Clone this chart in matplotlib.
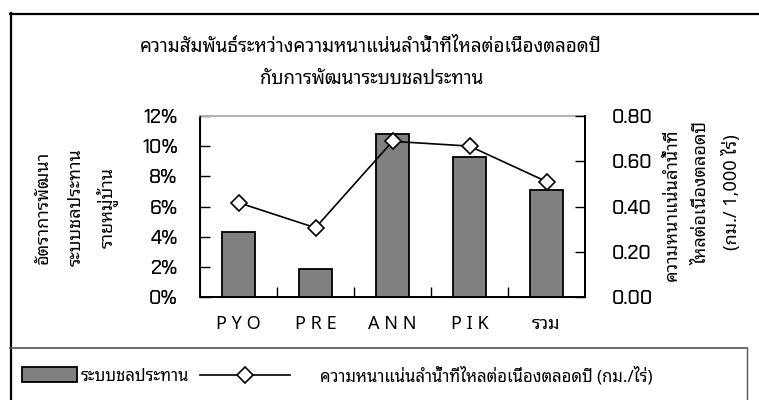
import numpy as np
import matplotlib
matplotlib.use("Agg")
import matplotlib.pyplot as plt
from matplotlib.lines import Line2D

THAI = ['Noto Sans Thai Looped', 'Noto Sans Thai', 'Sarabun', 'DejaVu Sans']
TICKS = ['Chakra Petch', 'DejaVu Sans']

categories = ['P Y O', 'P R E', 'A N N', 'P I K', 'รวม']
irrigation_pct = [4.33, 1.86, 10.8, 9.3, 7.07]
stream_density = [0.417, 0.306, 0.688, 0.667, 0.51]

title = ['ความสัมพันธ์ระหว่างความหนาแน่นลำน้ำที่ไหลต่อเนื่องตลอดปี',
         'กับการพัฒนาระบบชลประทาน']
left_label = ['อัตราการพัฒนา', 'ระบบชลประทาน', 'รายหมู่บ้าน']
right_label = ['ความหนาแน่นลำน้ำที่', 'ไหลต่อเนื่องตลอดปี', '(กม./ 1,000 ไร่)']
bar_name = 'ระบบชลประทาน'
line_name = 'ความหนาแน่นลำน้ำที่ไหลต่อเนื่องตลอดปี (กม./ไร่)'

W, H = 759, 400
fig = plt.figure(figsize=(W / 100, H / 100), dpi=100)


def fx(px):
    return px / W


def fy(py):
    return 1 - py / H


# outer chart frame and legend box
frame = dict(transform=fig.transFigure, color='black', lw=1.6)
fig.add_artist(Line2D([fx(10), 1], [fy(13.5), fy(13.5)], **frame))
fig.add_artist(Line2D([fx(10.5), fx(10.5)], [fy(13), 0], **frame))
fig.add_artist(Line2D([fx(10), fx(747)], [fy(348), fy(348)],
                      transform=fig.transFigure, color='#555555', lw=1.2))
fig.add_artist(Line2D([fx(747), fx(747)], [fy(348), 0],
                      transform=fig.transFigure, color='#555555', lw=1.0))

ax = fig.add_axes([fx(200), fy(297), fx(585) - fx(200), fy(116) - fy(297)])
x = np.arange(len(categories))
bars = ax.bar(x, irrigation_pct, width=0.42, color='#808080',
              edgecolor='black', linewidth=1.3, zorder=2)
ax.set_xlim(-0.5, len(categories) - 0.5)
ax.set_ylim(0, 12)
ax.set_yticks(np.arange(0, 13, 2))
ax.set_yticklabels([f'{v}%' for v in range(0, 13, 2)], family=TICKS,
                   fontsize=14, fontweight='medium')
ax.tick_params(axis='y', direction='in', length=7, width=1, pad=16)
ax.set_xticks(x)
ax.set_xticklabels(categories, family=THAI, fontsize=13)
ax.set_xticks(np.arange(0.5, len(categories) - 1, 1), minor=True)
ax.tick_params(axis='x', which='major', length=0, pad=13)
ax.tick_params(axis='x', which='minor', direction='in', length=7, width=1)
for side in ['left', 'right', 'bottom']:
    ax.spines[side].set_linewidth(1.4)
ax.spines['top'].set_color('#b0b0b0')
ax.spines['top'].set_linewidth(1.4)

ax2 = ax.twinx()
line, = ax2.plot(x, stream_density, color='black', lw=1.2, marker='D',
                 markersize=8, markerfacecolor='white',
                 markeredgecolor='black', markeredgewidth=1.2, zorder=3)
ax2.set_ylim(0, 0.8)
ax2.set_yticks(np.arange(0, 0.81, 0.2))
ax2.set_yticklabels([f'{v:.2f}' for v in np.arange(0, 0.81, 0.2)],
                    family=TICKS, fontsize=14, fontweight='medium')
ax2.tick_params(axis='y', direction='in', length=7, width=1, pad=19)
ax2.spines['right'].set_linewidth(1.4)
ax2.spines['top'].set_visible(False)

# titles and axis captions
fig.text(fx(371), fy(47), title[0], ha='center', va='center', family=THAI, fontsize=13.5)
fig.text(fx(372), fy(79), title[1], ha='center', va='center', family=THAI, fontsize=13.5)
for xp, txt in zip([43, 76, 107], left_label):
    fig.text(fx(xp), fy(207), txt, rotation=90, ha='center', va='center',
             family=THAI, fontsize=13)
for xp, yp, txt in zip([672, 701, 731], [205, 193, 192], right_label):
    fig.text(fx(xp), fy(yp), txt, rotation=90, ha='center', va='center',
             family=THAI, fontsize=13)

# legend row
fig.legend([bars], [bar_name], loc='center left',
           bbox_to_anchor=(fx(22), fy(376)), frameon=False,
           prop=dict(family=THAI, size=12), handlelength=3.3,
           handleheight=1.0, handletextpad=0.25, borderaxespad=0,
           borderpad=0)
fig.legend([line], [line_name], loc='center left',
           bbox_to_anchor=(fx(200), fy(376)), frameon=False,
           prop=dict(family=THAI, size=12), handlelength=5.4,
           handletextpad=1.8, borderaxespad=0, borderpad=0)

fig.savefig('out.png', dpi=100)
